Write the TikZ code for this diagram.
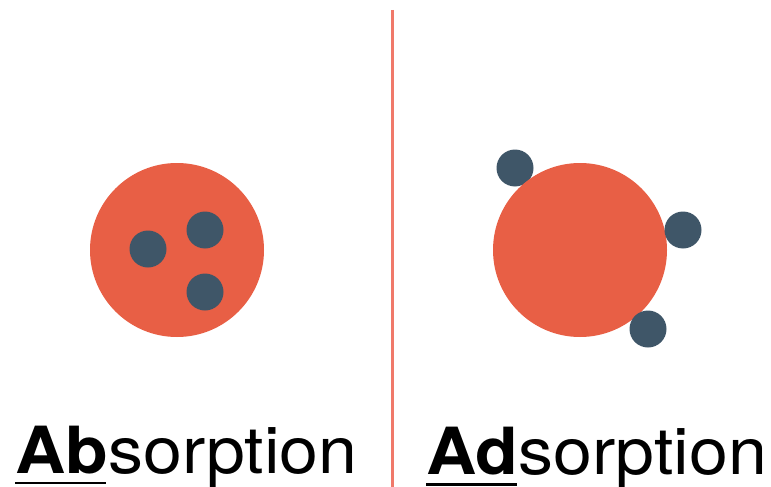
\documentclass[tikz,border=0pt]{standalone}
\usepackage{fontspec}
\setmainfont{TeX Gyre Heros}
\definecolor{bigred}{HTML}{E85F45}
\definecolor{dotblue}{HTML}{3F5668}
\definecolor{linered}{HTML}{F0796A}
\begin{document}
\begin{tikzpicture}[x=1pt,y=-1pt,
  big/.style={circle,fill=bigred,inner sep=0pt,minimum size=174pt},
  dot/.style={circle,fill=dotblue,inner sep=0pt,minimum size=37pt},
  lbl/.style={anchor=base west,inner sep=0pt,font=\fontsize{65}{70}\selectfont},
  uline/.style={line width=2.5pt}]
\useasboundingbox (0,0) rectangle (771,487);
% divider
\coordinate (ltop) at (392.5,10);
\coordinate (lbot) at (392.5,487);
\draw[linered,line width=3pt] (ltop) -- (lbot);
% absorption
\node[big] (b1) at (177,250) {};
\node[dot] (d1) at (148,249) {};
\node[dot] (d2) at (205,230) {};
\node[dot] (d3) at (205,292) {};
% adsorption
\node[dot] (e1) at (515,168) {};
\node[big] (b2) at (580,250) {};
\node[dot] (e2) at (683,230) {};
\node[dot] (e3) at (648,329) {};
% labels
\node[lbl] (t1) at (15,473) {\scalebox{1.075}[1]{\textbf{Ab}sorption}};
\node[lbl] (t2) at (426,474) {\scalebox{1.075}[1]{\textbf{Ad}sorption}};
\draw[uline] ([yshift=-10pt]t1.base west) -- ++(91,0);
\draw[uline] ([yshift=-10.5pt]t2.base west) -- ++(91,0);
\end{tikzpicture}
\end{document}
